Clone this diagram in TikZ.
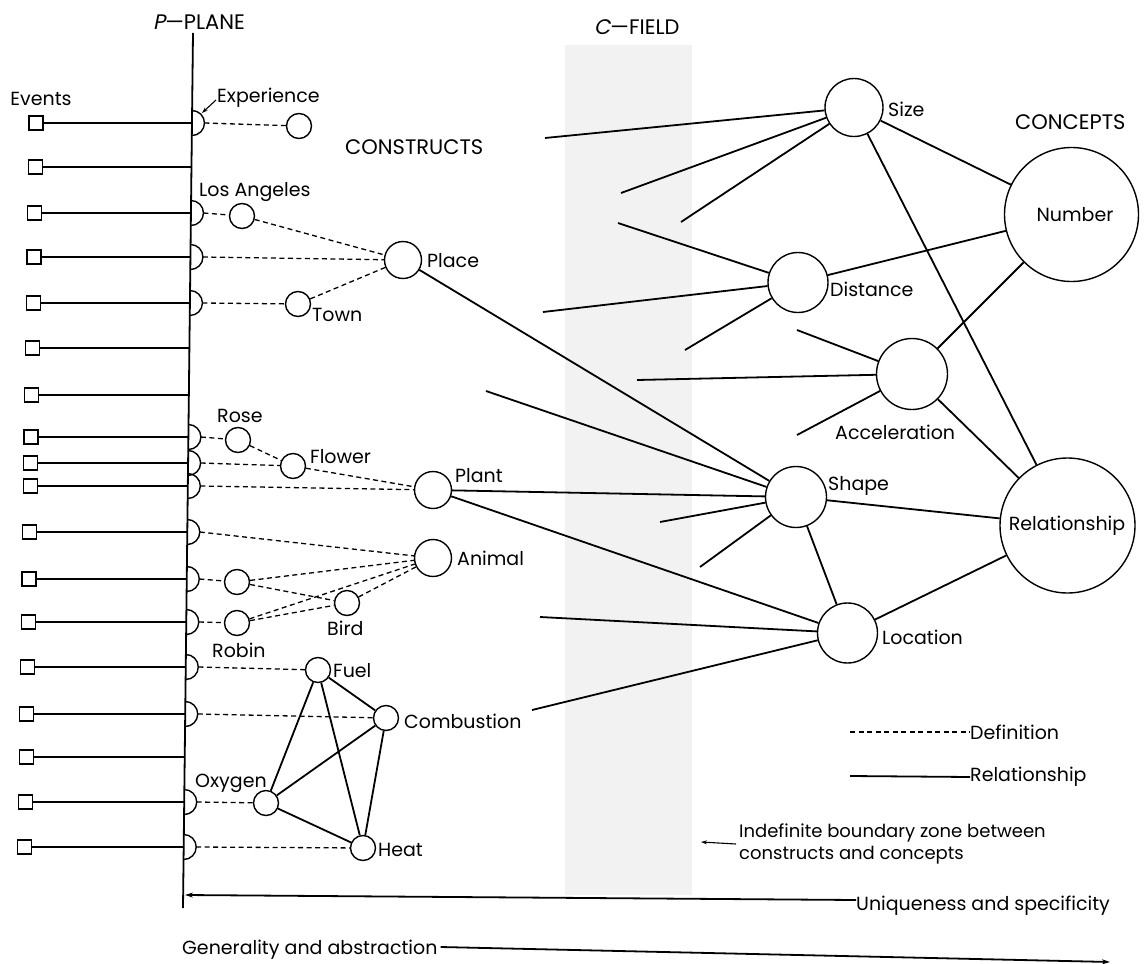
\documentclass[tikz,border=0pt]{standalone}
\usepackage{fontspec}
\setmainfont{Poppins}
\newfontfamily\slantfont[FakeSlant=0.2]{Poppins}
\usetikzlibrary{arrows.meta,calc}
\begin{document}
\begin{tikzpicture}[x=1pt,y=-1pt,
  ln/.style={line width=1.8pt},
  dl/.style={line width=1.3pt, dash pattern=on 5pt off 3.5pt},
  cn/.style={circle, draw, line width=1.4pt, inner sep=0pt, minimum size=#1},
  ev/.style={draw, line width=1.3pt, minimum size=14pt, inner sep=0pt},
  lb/.style={inner sep=0pt, anchor=west, font=\fontsize{19}{23}\selectfont},
  hd/.style={inner sep=0pt, anchor=west, font=\fontsize{21}{25}\selectfont},
  tip/.style={-{Stealth[length=8pt,width=5pt]}}
]
\useasboundingbox (0,0) rectangle (1144,964);
% boundary zone
\fill[black!5] (565,45) rectangle (692,895);

% P-plane
\coordinate (ptop) at (193,33);
\coordinate (pbot) at (183,908);
\draw[ln] (ptop) -- (pbot);

% event rows
\foreach \i/\y in {1/123,2/167,3/213,4/257,5/303,6/348,7/395,8/437,9/463,10/486,11/532,12/579,13/622,14/667,15/714,16/757,17/802,18/847}{
  \pgfmathsetmacro\px{193-0.0114*(\y-33)}
  \pgfmathsetmacro\sx{36-0.0155*(\y-123)}
  \node[ev] (e\i) at (\sx,\y) {};
  \coordinate (p\i) at (\px,\y);
  \draw[ln] (e\i) -- (p\i);
}
\foreach \i in {1,3,4,5,8,9,10,11,12,13,14,15,17,18}{
  \draw[line width=1.4pt] ([yshift=12.5pt]p\i) arc[start angle=90,end angle=-90,radius=12.5pt];
  \coordinate (s\i) at ([xshift=12.5pt]p\i);
}

% headings
\node[hd] (tP) at (153,22) {{\slantfont P}—PLANE};
\node[hd] (tC) at (594,27) {{\slantfont C}—FIELD};
\node[hd] (tcons) at (345,147) {CONSTRUCTS};
\node[hd] (tconc) at (1015,122) {CONCEPTS};
\node[lb, anchor=center] (tev) at (41,99) {Events};

% construct circles
\node[cn=25pt] (cexp) at (299,126) {};
\node[cn=25pt] (cla) at (242,216) {};
\node[cn=37pt] (cplace) at (403,260) {};
\node[cn=25pt] (ctown) at (298,304) {};
\node[cn=25pt] (crose) at (238,440) {};
\node[cn=25pt] (cflower) at (293,466) {};
\node[cn=37pt] (cplant) at (433,490) {};
\node[cn=37pt] (canimal) at (433,558) {};
\node[cn=25pt] (cbird1) at (237,582) {};
\node[cn=25pt] (crobin) at (237,623) {};
\node[cn=25pt] (cbird) at (347,603) {};
\node[cn=25pt] (cfuel) at (318,670) {};
\node[cn=25pt] (ccomb) at (386,718) {};
\node[cn=25pt] (coxy) at (266,803) {};
\node[cn=25pt] (cheat) at (363,848) {};

% construct labels
\node[lb] (lexp) at (217,98) {Experience};
\node[lb] (lla) at (199,192) {Los Angeles};
\node[lb] (lplace) at (427,261) {Place};
\node[lb] (ltown) at (312,315) {Town};
\node[lb] (lrose) at (217,416) {Rose};
\node[lb] (lflower) at (310,457) {Flower};
\node[lb] (lplant) at (455,476) {Plant};
\node[lb] (lanimal) at (457,558) {Animal};
\node[lb] (lbird) at (327,628) {Bird};
\node[lb] (lrobin) at (212,650) {Robin};
\node[lb] (lfuel) at (333,671) {Fuel};
\node[lb] (lcomb) at (404,721) {Combustion};
\node[lb] (loxy) at (195,783) {Oxygen};
\node[lb] (lheat) at (378,850) {Heat};

\coordinate (expTip) at (202,113);
\draw[line width=1.1pt, -{Stealth[length=6pt,width=4pt]}] ([xshift=-1pt,yshift=-2pt]lexp.west) -- (expTip);

% definitions (dashed)
\draw[dl] (s1) -- (cexp);
\draw[dl] (s3) -- (cla);
\draw[dl] (cla) -- (cplace);
\draw[dl] (s4) -- (cplace);
\draw[dl] (s5) -- (ctown);
\draw[dl] (ctown) -- (cplace);
\draw[dl] (s8) -- (crose);
\draw[dl] (crose) -- (cflower);
\draw[dl] (s9) -- (cflower);
\draw[dl] (cflower) -- (cplant);
\draw[dl] (s10) -- (cplant);
\draw[dl] (s11) -- (canimal);
\draw[dl] (s12) -- (cbird1);
\draw[dl] (cbird1) -- (canimal);
\draw[dl] (cbird1) -- (cbird);
\draw[dl] (s13) -- (crobin);
\draw[dl] (crobin) -- (canimal);
\draw[dl] (crobin) -- (cbird);
\draw[dl] (cbird) -- (canimal);
\draw[dl] (s14) -- (cfuel);
\draw[dl] (s15) -- (ccomb);
\draw[dl] (s17) -- (coxy);
\draw[dl] (s18) -- (cheat);

% combustion cluster
\draw[ln] (cfuel) -- (ccomb);
\draw[ln] (cfuel) -- (coxy);
\draw[ln] (cfuel) -- (cheat);
\draw[ln] (ccomb) -- (coxy);
\draw[ln] (ccomb) -- (cheat);
\draw[ln] (coxy) -- (cheat);

% concept circles
\node[cn=58pt] (csize) at (854,107.5) {};
\node[cn=134pt] (cnum) at (1071.5,214.5) {};
\node[cn=60pt] (cdist) at (798,282.5) {};
\node[cn=71pt] (cacc) at (912,374) {};
\node[cn=61pt] (cshape) at (796,497) {};
\node[cn=135pt] (crel) at (1067.5,525.5) {};
\node[cn=60pt] (cloc) at (847.5,633) {};

\node[lb] (lsize) at (888,109) {Size};
\node[lb, anchor=center] (lnum) at (1075,215) {Number};
\node[lb] (ldist) at (830,289) {Distance};
\node[lb] (lacc) at (835,432) {Acceleration};
\node[lb] (lshape) at (828,486) {Shape};
\node[lb, anchor=center] (lrel) at (1067,526) {Relationship};
\node[lb] (lloc) at (882,637) {Location};

% relationships
\draw[ln] (cplace) -- (cshape);
\draw[ln] (cplant) -- (cshape);
\draw[ln] (cplant) -- (cloc);
\draw[ln] (csize) -- (cnum);
\draw[ln] (csize) -- (crel);
\draw[ln] (cdist) -- (cnum);
\draw[ln] (cacc) -- (cnum);
\draw[ln] (cacc) -- (crel);
\draw[ln] (cshape) -- (crel);
\draw[ln] (cshape) -- (cloc);
\draw[ln] (cloc) -- (crel);

% open stubs
\foreach \n/\x/\y/\t in {a/545/138/csize, b/621/193/csize, c/681/222/csize,
  d/618/223/cdist, e/543/312/cdist, f/685/350/cdist,
  g/797/330/cacc, h/637/380/cacc, i/797/435/cacc,
  j/486/391/cshape, k/660/522/cshape, l/700/567/cshape,
  m/540/617/cloc, n/532/710/cloc}{
  \coordinate (stub\n) at (\x,\y);
  \draw[ln] (stub\n) -- (\t);
}

% legend
\node[lb] (ldef) at (970,732) {Definition};
\node[lb] (lrelg) at (970,777) {Relationship};
\coordinate (legA) at (850,732);
\coordinate (legB) at (850,776);
\draw[dl] (legA) -- (ldef.west);
\draw[ln] (legB) -- (lrelg.west);

\node[lb, align=left, font=\fontsize{18}{22}\selectfont] (lind) at (739,844) {Indefinite boundary zone between\\constructs and concepts};
\coordinate (indTip) at (701,842);
\draw[line width=1.1pt, -{Stealth[length=6pt,width=4pt]}] ([xshift=-3pt]lind.west) -- (indTip);

% bottom axes
\node[lb] (luniq) at (856,906) {Uniqueness and specificity};
\coordinate (uTip) at (185,895);
\draw[ln, tip] ([yshift=6pt]luniq.west) -- (uTip);

\node[lb] (lgen) at (182,950) {Generality and abstraction};
\coordinate (gEnd) at (1110,962);
\draw[ln, tip] ([xshift=3pt,yshift=3pt]lgen.east) -- (gEnd);
\end{tikzpicture}
\end{document}
